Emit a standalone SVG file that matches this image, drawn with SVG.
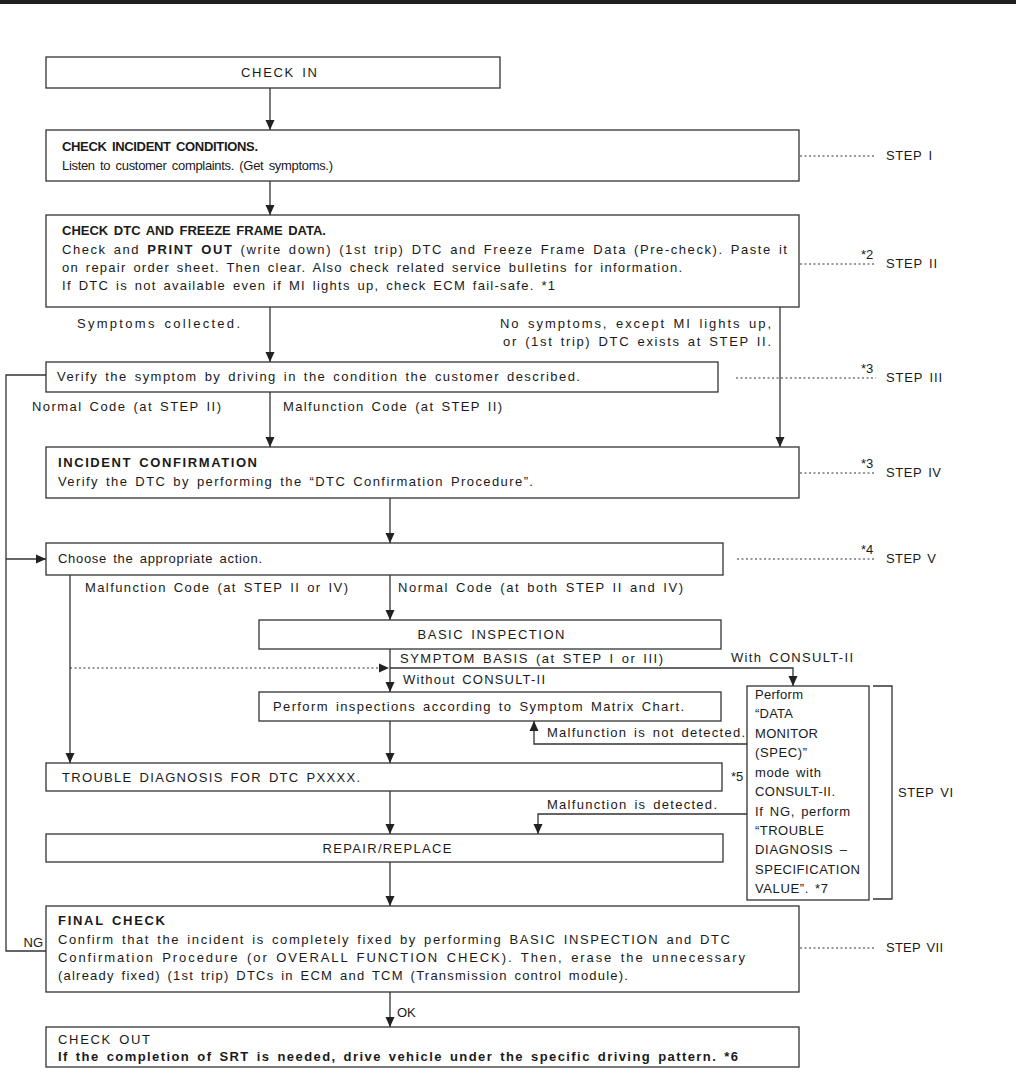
<svg xmlns="http://www.w3.org/2000/svg" width="1016" height="1078" viewBox="0 0 1016 1078">
<style>
.t{font-family:"Liberation Sans",Arial,sans-serif;font-size:13px;fill:#1a1a1a;word-spacing:2px}
.b{font-weight:bold}
.m{text-anchor:middle}
.e{text-anchor:end}
.box{fill:#fff;stroke:#333;stroke-width:1.3}
.ln{fill:none;stroke:#333;stroke-width:1.3}
.dot{fill:none;stroke:#333;stroke-width:1;stroke-dasharray:2 2.5}
</style>
<defs>
<marker id="ah" markerUnits="userSpaceOnUse" markerWidth="10" markerHeight="10" refX="10" refY="5" orient="auto">
<path d="M0,0.5 L10,5 L0,9.5 z" fill="#222"/>
</marker>
</defs>
<rect x="0" y="0" width="1016" height="1078" fill="#fff"/>
<rect x="0" y="0" width="1016" height="4" fill="#1e1e1e"/>

<g id="connectors">
<path class="ln" d="M270,88 V130" marker-end="url(#ah)"/>
<path class="ln" d="M270,181 V215" marker-end="url(#ah)"/>
<path class="ln" d="M270,307 V362" marker-end="url(#ah)"/>
<path class="ln" d="M780,307 V447" marker-end="url(#ah)"/>
<path class="ln" d="M270,392 V447" marker-end="url(#ah)"/>
<path class="ln" d="M390,498 V543" marker-end="url(#ah)"/>
<path class="ln" d="M46,951 H6 V375 H46"/>
<path class="ln" d="M6,559 H46" marker-end="url(#ah)"/>
<path class="ln" d="M70,575 V763" marker-end="url(#ah)"/>
<path class="ln" d="M390,575 V620" marker-end="url(#ah)"/>
<path class="ln" d="M390,649 V692" marker-end="url(#ah)"/>
<path class="dot" d="M70,668 H389" marker-end="url(#ah)"/>
<path class="ln" d="M390,668 H793 V686" marker-end="url(#ah)"/>
<path class="ln" d="M747,744 H534 V721" marker-end="url(#ah)"/>
<path class="ln" d="M390,721 V763" marker-end="url(#ah)"/>
<path class="ln" d="M747,814 H538 V834" marker-end="url(#ah)"/>
<path class="ln" d="M390,791 V834" marker-end="url(#ah)"/>
<path class="ln" d="M390,862 V906" marker-end="url(#ah)"/>
<path class="ln" d="M390,992 V1027" marker-end="url(#ah)"/>
<path class="ln" d="M873,686 H892 V899 H873"/>
<path class="dot" d="M800,156 H876"/>
<path class="dot" d="M800,264 H876"/>
<path class="dot" d="M736,378 H876"/>
<path class="dot" d="M800,473 H876"/>
<path class="dot" d="M737,559 H876"/>
<path class="dot" d="M800,948 H876"/>
</g>

<g id="labels">
<text class="t e" x="240" y="328" textLength="163" lengthAdjust="spacing">Symptoms collected.</text>
<text class="t e" x="771" y="328" textLength="271" lengthAdjust="spacing">No symptoms, except MI lights up,</text>
<text class="t e" x="771" y="346" textLength="268" lengthAdjust="spacing">or (1st trip) DTC exists at STEP II.</text>
<text class="t" x="32" y="411" textLength="189" lengthAdjust="spacing">Normal Code (at STEP II)</text>
<text class="t" x="283" y="411" textLength="219" lengthAdjust="spacing">Malfunction Code (at STEP II)</text>
<text class="t" x="85" y="592" textLength="263" lengthAdjust="spacing">Malfunction Code (at STEP II or IV)</text>
<text class="t" x="398" y="592" textLength="285" lengthAdjust="spacing">Normal Code (at both STEP II and IV)</text>
<text class="t" x="400" y="663" textLength="263" lengthAdjust="spacing">SYMPTOM BASIS (at STEP I or III)</text>
<text class="t" x="403" y="684" textLength="142" lengthAdjust="spacing">Without CONSULT-II</text>
<text class="t" x="731" y="662" textLength="122" lengthAdjust="spacing">With CONSULT-II</text>
<text class="t" x="547" y="737" textLength="198" lengthAdjust="spacing">Malfunction is not detected.</text>
<text class="t" x="547" y="809" textLength="170" lengthAdjust="spacing">Malfunction is detected.</text>
<text class="t" x="731" y="781">*5</text>
<text class="t" x="397" y="1017">OK</text>
<text class="t e" x="43" y="947">NG</text>
<text class="t" x="886" y="160" textLength="46" lengthAdjust="spacing">STEP I</text>
<text class="t" x="861" y="259" font-size="12">*2</text>
<text class="t" x="886" y="268" textLength="51" lengthAdjust="spacing">STEP II</text>
<text class="t" x="861" y="373" font-size="12">*3</text>
<text class="t" x="886" y="382" textLength="56" lengthAdjust="spacing">STEP III</text>
<text class="t" x="861" y="468" font-size="12">*3</text>
<text class="t" x="886" y="477" textLength="55" lengthAdjust="spacing">STEP IV</text>
<text class="t" x="861" y="554" font-size="12">*4</text>
<text class="t" x="886" y="563" textLength="50" lengthAdjust="spacing">STEP V</text>
<text class="t" x="898" y="797" textLength="55" lengthAdjust="spacing">STEP VI</text>
<text class="t" x="886" y="952" textLength="57" lengthAdjust="spacing">STEP VII</text>
</g>

<g id="n-checkin">
<rect class="box" x="46" y="57" width="454" height="31"/>
<text class="t m" x="279" y="77" textLength="76" lengthAdjust="spacing">CHECK IN</text>
</g>

<g id="n-incident-conditions">
<rect class="box" x="46" y="130" width="753" height="51"/>
<text class="t b" x="62" y="151" textLength="196" lengthAdjust="spacing">CHECK INCIDENT CONDITIONS.</text>
<text class="t" x="62" y="170" textLength="271" lengthAdjust="spacing">Listen to customer complaints. (Get symptoms.)</text>
</g>

<g id="n-dtc">
<rect class="box" x="46" y="215" width="753" height="92"/>
<text class="t b" x="62" y="235">CHECK DTC AND FREEZE FRAME DATA.</text>
<text class="t" x="62" y="254" textLength="725" lengthAdjust="spacing">Check and <tspan class="b">PRINT OUT</tspan> (write down) (1st trip) DTC and Freeze Frame Data (Pre-check). Paste it</text>
<text class="t" x="62" y="272" textLength="620" lengthAdjust="spacing">on repair order sheet. Then clear. Also check related service bulletins for information.</text>
<text class="t" x="62" y="290" textLength="493" lengthAdjust="spacing">If DTC is not available even if MI lights up, check ECM fail-safe. *1</text>
</g>

<g id="n-verify">
<rect class="box" x="46" y="362" width="672" height="30"/>
<text class="t" x="57" y="381" textLength="523" lengthAdjust="spacing">Verify the symptom by driving in the condition the customer described.</text>
</g>

<g id="n-confirm">
<rect class="box" x="46" y="447" width="753" height="51"/>
<text class="t b" x="58" y="467" textLength="199" lengthAdjust="spacing">INCIDENT CONFIRMATION</text>
<text class="t" x="58" y="486" textLength="475" lengthAdjust="spacing">Verify the DTC by performing the “DTC Confirmation Procedure”.</text>
</g>

<g id="n-choose">
<rect class="box" x="46" y="543" width="677" height="32"/>
<text class="t" x="58" y="563" textLength="204" lengthAdjust="spacing">Choose the appropriate action.</text>
</g>

<g id="n-basic">
<rect class="box" x="259" y="620" width="462" height="29"/>
<text class="t m" x="491" y="639" textLength="147" lengthAdjust="spacing">BASIC INSPECTION</text>
</g>

<g id="n-matrix">
<rect class="box" x="259" y="692" width="462" height="29"/>
<text class="t" x="273" y="711" textLength="411" lengthAdjust="spacing">Perform inspections according to Symptom Matrix Chart.</text>
</g>

<g id="n-datamonitor">
<rect class="box" x="747" y="686" width="122" height="214"/>
<text class="t" x="755" y="699" textLength="48" lengthAdjust="spacing">Perform</text>
<text class="t" x="755" y="718" textLength="38" lengthAdjust="spacing">“DATA</text>
<text class="t" x="755" y="738" textLength="63" lengthAdjust="spacing">MONITOR</text>
<text class="t" x="755" y="757" textLength="52" lengthAdjust="spacing">(SPEC)”</text>
<text class="t" x="755" y="777" textLength="66" lengthAdjust="spacing">mode with</text>
<text class="t" x="755" y="796" textLength="80" lengthAdjust="spacing">CONSULT-II.</text>
<text class="t" x="755" y="816" textLength="95" lengthAdjust="spacing">If NG, perform</text>
<text class="t" x="755" y="835" textLength="69" lengthAdjust="spacing">“TROUBLE</text>
<text class="t" x="755" y="854" textLength="92" lengthAdjust="spacing">DIAGNOSIS –</text>
<text class="t" x="755" y="874" textLength="105" lengthAdjust="spacing">SPECIFICATION</text>
<text class="t" x="755" y="893" textLength="73" lengthAdjust="spacing">VALUE”. *7</text>
</g>

<g id="n-trouble">
<rect class="box" x="46" y="763" width="676" height="28"/>
<text class="t" x="62" y="782" textLength="298" lengthAdjust="spacing">TROUBLE DIAGNOSIS FOR DTC PXXXX.</text>
</g>

<g id="n-repair">
<rect class="box" x="46" y="834" width="677" height="28"/>
<text class="t m" x="387" y="853" textLength="129" lengthAdjust="spacing">REPAIR/REPLACE</text>
</g>

<g id="n-final">
<rect class="box" x="46" y="906" width="753" height="86"/>
<text class="t b" x="58" y="925" textLength="107" lengthAdjust="spacing">FINAL CHECK</text>
<text class="t" x="58" y="944" textLength="672" lengthAdjust="spacing">Confirm that the incident is completely fixed by performing BASIC INSPECTION and DTC</text>
<text class="t" x="58" y="962" textLength="687" lengthAdjust="spacing">Confirmation Procedure (or OVERALL FUNCTION CHECK). Then, erase the unnecessary</text>
<text class="t" x="58" y="980" textLength="570" lengthAdjust="spacing">(already fixed) (1st trip) DTCs in ECM and TCM (Transmission control module).</text>
</g>

<g id="n-checkout">
<rect class="box" x="46" y="1027" width="753" height="40"/>
<text class="t" x="58" y="1044" textLength="92" lengthAdjust="spacing">CHECK OUT</text>
<text class="t b" x="58" y="1061" textLength="680" lengthAdjust="spacing">If the completion of SRT is needed, drive vehicle under the specific driving pattern. *6</text>
</g>
</svg>
